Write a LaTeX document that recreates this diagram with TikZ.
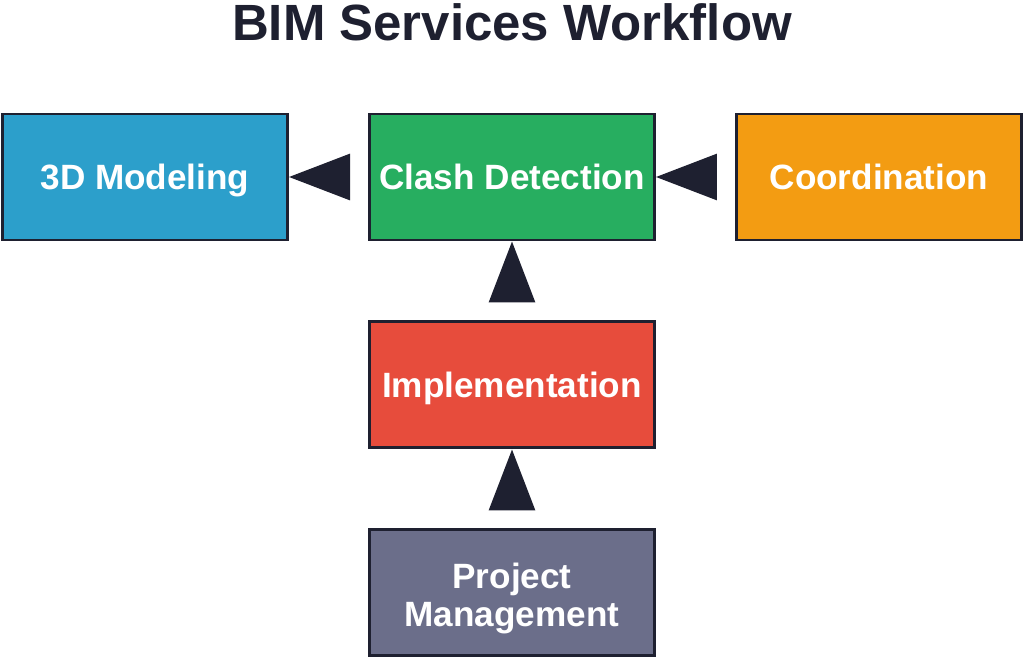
\documentclass[tikz,border=0pt]{standalone}
\usepackage{fontspec}
\setmainfont{Liberation Sans}
\usetikzlibrary{arrows.meta, positioning}
\definecolor{boxline}{HTML}{1E2030}
\definecolor{modelblue}{HTML}{2C9FCB}
\definecolor{clashgreen}{HTML}{27AE60}
\definecolor{coordorange}{HTML}{F39C12}
\definecolor{implred}{HTML}{E74C3C}
\definecolor{pmgray}{HTML}{6B6E8A}

\begin{document}
\begin{tikzpicture}[
    node distance=1.58cm,
    stage/.style={draw=boxline, line width=1.7pt, minimum width=5.7cm,
                  minimum height=2.52cm, text=white, align=center,
                  text height=14.5pt, text depth=0pt,
                  font=\bfseries\fontsize{20}{21.6}\selectfont},
    flow/.style={draw=boxline, fill=boxline, line width=1.7pt,
                 -{Triangle[length=1.22cm, width=0.92cm]}, shorten <=0.46cm}
  ]
    \useasboundingbox (0,0) rectangle (20.48,-13.14);
    \node[font=\bfseries\fontsize{29}{34}\selectfont, text=boxline] (title) at (10.24,-0.44) {BIM Services Workflow};
    \node[stage, fill=clashgreen] (clash) at (10.24,-3.54) {Clash Detection};
    \node[stage, fill=modelblue, left=of clash] (model) {3D Modeling};
    \node[stage, fill=coordorange, right=of clash] (coord) {Coordination};
    \node[stage, fill=implred, below=of clash] (impl) {Implementation};
    \node[stage, fill=pmgray, below=of impl, text height=42pt, text depth=4pt] (pm) {Project\\Management};
    \draw[flow] (clash) -- (model);
    \draw[flow] (coord) -- (clash);
    \draw[flow] (impl) -- (clash);
    \draw[flow] (pm) -- (impl);
  \end{tikzpicture}
\end{document}
